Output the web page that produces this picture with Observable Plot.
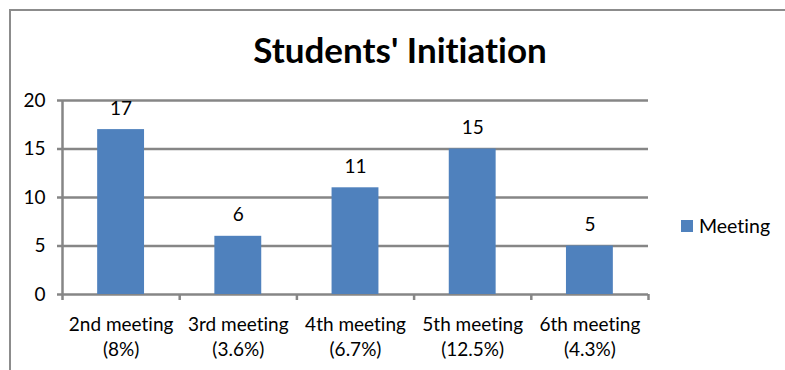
<!DOCTYPE html>
<html>
<head>
<meta charset="utf-8">
<script src="https://cdn.jsdelivr.net/npm/d3@7"></script>
<script src="https://cdn.jsdelivr.net/npm/@observablehq/plot@0.6"></script>
<style>
  body { margin: 0; background: #fff; font-family: Lato, "Open Sans", sans-serif; font-variant-ligatures: none; }
  #wrap { position: relative; width: 785px; height: 370px; overflow: hidden; }
  #frame { position: absolute; left: 9px; top: 9px; width: 800px; height: 400px;
           border-left: 2.5px solid #8c8c8c; border-top: 2.5px solid #8c8c8c; }
  #title { position: absolute; left: 0; width: 800px; top: 28px; text-align: center;
           font-size: 35px; font-weight: bold; color: #000; font-variant-ligatures: none; }
  #legend { position: absolute; left: 681px; top: 214px; font-size: 19.5px; color: #000;
            display: flex; align-items: center; }
  #legend .sw { width: 12px; height: 12px; background: #4F81BD; margin-right: 6px; }
  #chart { position: absolute; left: 0; top: 0; }
  #chart svg text { font-variant-ligatures: none; }
</style>
</head>
<body>
<div id="wrap">
  <div id="frame"></div>
  <div id="title"></div>
  <div id="legend"><div class="sw"></div><span id="legtext"></span></div>
  <div id="chart"></div>
</div>
<script>
const title = "Students' Initiation";
const seriesName = "Meeting";
const categories = ["2nd meeting", "3rd meeting", "4th meeting", "5th meeting", "6th meeting"];
const percents = ["(8%)", "(3.6%)", "(6.7%)", "(12.5%)", "(4.3%)"];
const values = [17, 6, 11, 15, 5];
const yTicks = [0, 5, 10, 15, 20];

document.getElementById("title").textContent = title;
document.getElementById("legtext").textContent = seriesName;

const data = categories.map((c, i) => ({i, label: c + "\n" + percents[i], value: values[i]}));
const gray = "#868686";
const blue = "#4F81BD";
const font = "Lato, 'Open Sans', sans-serif";
const fs = 19;

const chart = Plot.plot({
  width: 785,
  height: 370,
  marginLeft: 62,
  marginRight: 137,
  marginTop: 100,
  marginBottom: 76,
  style: {fontFamily: font, fontSize: fs + "px", color: "#000", background: "transparent"},
  x: {type: "linear", domain: [0, categories.length]},
  y: {domain: [0, 20]},
  marks: [
    Plot.ruleY(yTicks, {stroke: gray, strokeWidth: 2.5}),
    Plot.ruleX([0], {stroke: gray, strokeWidth: 2.5}),
    Plot.rectY(data, {x1: d => d.i + 0.3, x2: d => d.i + 0.7, y1: 0, y2: "value", fill: blue}),
    Plot.text(data, {x: d => d.i + 0.5, y: "value", text: d => String(d.value), dy: -21, fontSize: fs, fill: "#000"}),
    Plot.axisY({ticks: yTicks, tickSize: 5, tickPadding: 12, stroke: gray, strokeWidth: 2.5, fontSize: fs, fill: "#000", label: null}),
    Plot.axisX({ticks: d3.range(categories.length + 1), tickSize: 6, stroke: gray, strokeWidth: 2.5, tickFormat: () => "", label: null}),
    Plot.axisX({ticks: data.map(d => d.i + 0.5), tickSize: 0, tickPadding: 19,
                tickFormat: (t) => data[Math.floor(t)].label, lineHeight: 1.32, fontSize: fs, fill: "#000", label: null})
  ]
});
document.getElementById("chart").appendChild(chart);
</script>
</body>
</html>
